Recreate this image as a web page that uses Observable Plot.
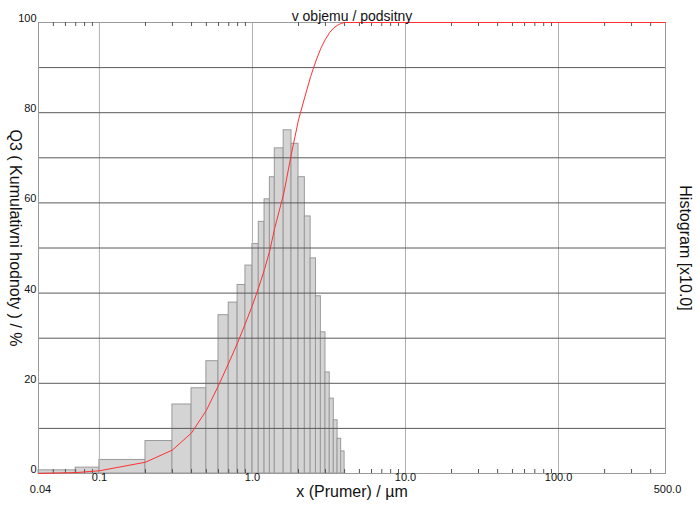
<!DOCTYPE html>
<html>
<head>
<meta charset="utf-8">
<script src="https://cdn.jsdelivr.net/npm/d3@7"></script>
<script src="https://cdn.jsdelivr.net/npm/@observablehq/plot@0.6"></script>
<style>
  html, body { margin: 0; padding: 0; background: #fff; }
  svg { display: block; }
</style>
</head>
<body>
<div id="chart"></div>
<script>
// Bin edges (µm) and histogram heights (in the scaled x10 units shown on the 0-100 axis)
const binLo = [0.04, 0.07, 0.1, 0.2, 0.3, 0.4, 0.5, 0.6, 0.7, 0.8, 0.9, 1.0, 1.1, 1.2, 1.3, 1.4, 1.6, 1.8, 2.0, 2.2, 2.4, 2.6, 2.8, 3.0, 3.2, 3.4, 3.6, 3.8];
const binHi = [0.07, 0.1, 0.2, 0.3, 0.4, 0.5, 0.6, 0.7, 0.8, 0.9, 1.0, 1.1, 1.2, 1.3, 1.4, 1.6, 1.8, 2.0, 2.2, 2.4, 2.6, 2.8, 3.0, 3.2, 3.4, 3.6, 3.8, 4.0];
const histVal = [0.7, 1.3, 3.0, 7.2, 15.3, 18.9, 24.9, 35.1, 37.9, 41.8, 46.1, 50.9, 55.8, 60.8, 65.7, 72.1, 76.1, 73.1, 65.7, 57.0, 47.7, 39.3, 31.3, 22.4, 16.6, 11.8, 7.7, 4.9];

// Cumulative curve Q3 (%)
const cumX = [0.04, 0.07, 0.1, 0.2, 0.3, 0.4, 0.5, 0.6, 0.7, 0.8, 0.9, 1.0, 1.1, 1.2, 1.3, 1.4, 1.6, 1.8, 2.0, 2.2, 2.4, 2.6, 2.8, 3.0, 3.2, 3.4, 3.6, 3.8, 4.0, 500];
const cumY = [0, 0.2, 0.6, 2.5, 5.2, 9.0, 14.0, 19.5, 24.5, 29.0, 33.3, 37.3, 41.3, 45.3, 49.5, 54.5, 62.0, 71.0, 78.4, 83.5, 88.0, 91.5, 94.3, 96.3, 97.8, 98.8, 99.4, 99.8, 100, 100];

// Axis ticks
const xMajor = [0.1, 1, 10, 100];
const xMajorLabels = ["0.1", "1.0", "10.0", "100.0"];
const xEnds = [0.04, 500];
const xEndLabels = ["0.04", "500.0"];
const xMinor = [0.05, 0.06, 0.07, 0.08, 0.09, 0.2, 0.3, 0.4, 0.5, 0.6, 0.7, 0.8, 0.9,
                2, 3, 4, 5, 6, 7, 8, 9, 20, 30, 40, 50, 60, 70, 80, 90, 200, 300, 400];
const yGrid = [0, 10, 20, 30, 40, 50, 60, 70, 80, 90, 100];
const yLabelVals = [0, 20, 40, 60, 80, 100];

const titleText = "v objemu / podsitny";
const xTitle = "x (Prumer) / µm";
const yTitle = "Q3 ( Kumulativni hodnoty ) / %";
const y2Title = "Histogram [x10.0]";

const hist = binLo.map((lo, i) => ({lo, hi: binHi[i], v: histVal[i]}));
const cum = cumX.map((x, i) => ({x, y: cumY[i]}));

const W = 700, H = 514, mt = 22, mb = 41, ml = 38, mr = 35;
const frameH = H - mt - mb;

const chart = Plot.plot({
  width: W,
  height: H,
  marginTop: mt,
  marginBottom: mb,
  marginLeft: ml,
  marginRight: mr,
  style: {fontFamily: "'Liberation Sans', Arial, sans-serif", background: "#fff"},
  x: {type: "log", domain: [0.04, 500], axis: null},
  y: {domain: [0, 100], axis: null},
  marks: [
    Plot.rectY(hist, {x1: "lo", x2: "hi", y: "v", fill: "#d4d4d4", stroke: "#9a9a9a", strokeWidth: 1}),
    Plot.ruleX(xMajor, {stroke: "#b0b0b0", strokeWidth: 1}),
    Plot.ruleY(yGrid, {stroke: "#5a5a5a", strokeWidth: 1}),
    Plot.frame({stroke: "#9a9a9a"}),
    Plot.tickX(xMinor, {x: d => d, stroke: "#555", insetBottom: frameH - 4}),
    Plot.tickX(xMinor, {x: d => d, stroke: "#555", insetTop: frameH - 4}),
    Plot.line(cum, {x: "x", y: "y", stroke: "#ff3030", strokeWidth: 1}),
    Plot.text(xMajor, {x: d => d, text: (d, i) => xMajorLabels[i], frameAnchor: "bottom", dy: 7, fontSize: 11, fill: "#111"}),
    Plot.text(xEnds, {x: d => d, text: (d, i) => xEndLabels[i], frameAnchor: "bottom", dy: 19, dx: 2, fontSize: 11, fill: "#111"}),
    Plot.text(yLabelVals, {y: d => d, text: d => String(d), frameAnchor: "left", textAnchor: "end", dx: -2, dy: -4, fontSize: 11, fill: "#111"}),
    Plot.text([titleText], {text: d => d, frameAnchor: "top", dy: -11, fontSize: 14, fill: "#111"}),
    Plot.text([xTitle], {text: d => d, frameAnchor: "bottom", dy: 23, fontSize: 16, fill: "#111"}),
    Plot.text([yTitle], {text: d => d, frameAnchor: "left", textAnchor: "middle", dx: -23, dy: -10, rotate: 90, fontSize: 16, fill: "#111"}),
    Plot.text([y2Title], {text: d => d, frameAnchor: "right", textAnchor: "middle", dx: 20, rotate: 90, fontSize: 16, fill: "#111"})
  ]
});
document.getElementById("chart").appendChild(chart);
</script>
</body>
</html>
